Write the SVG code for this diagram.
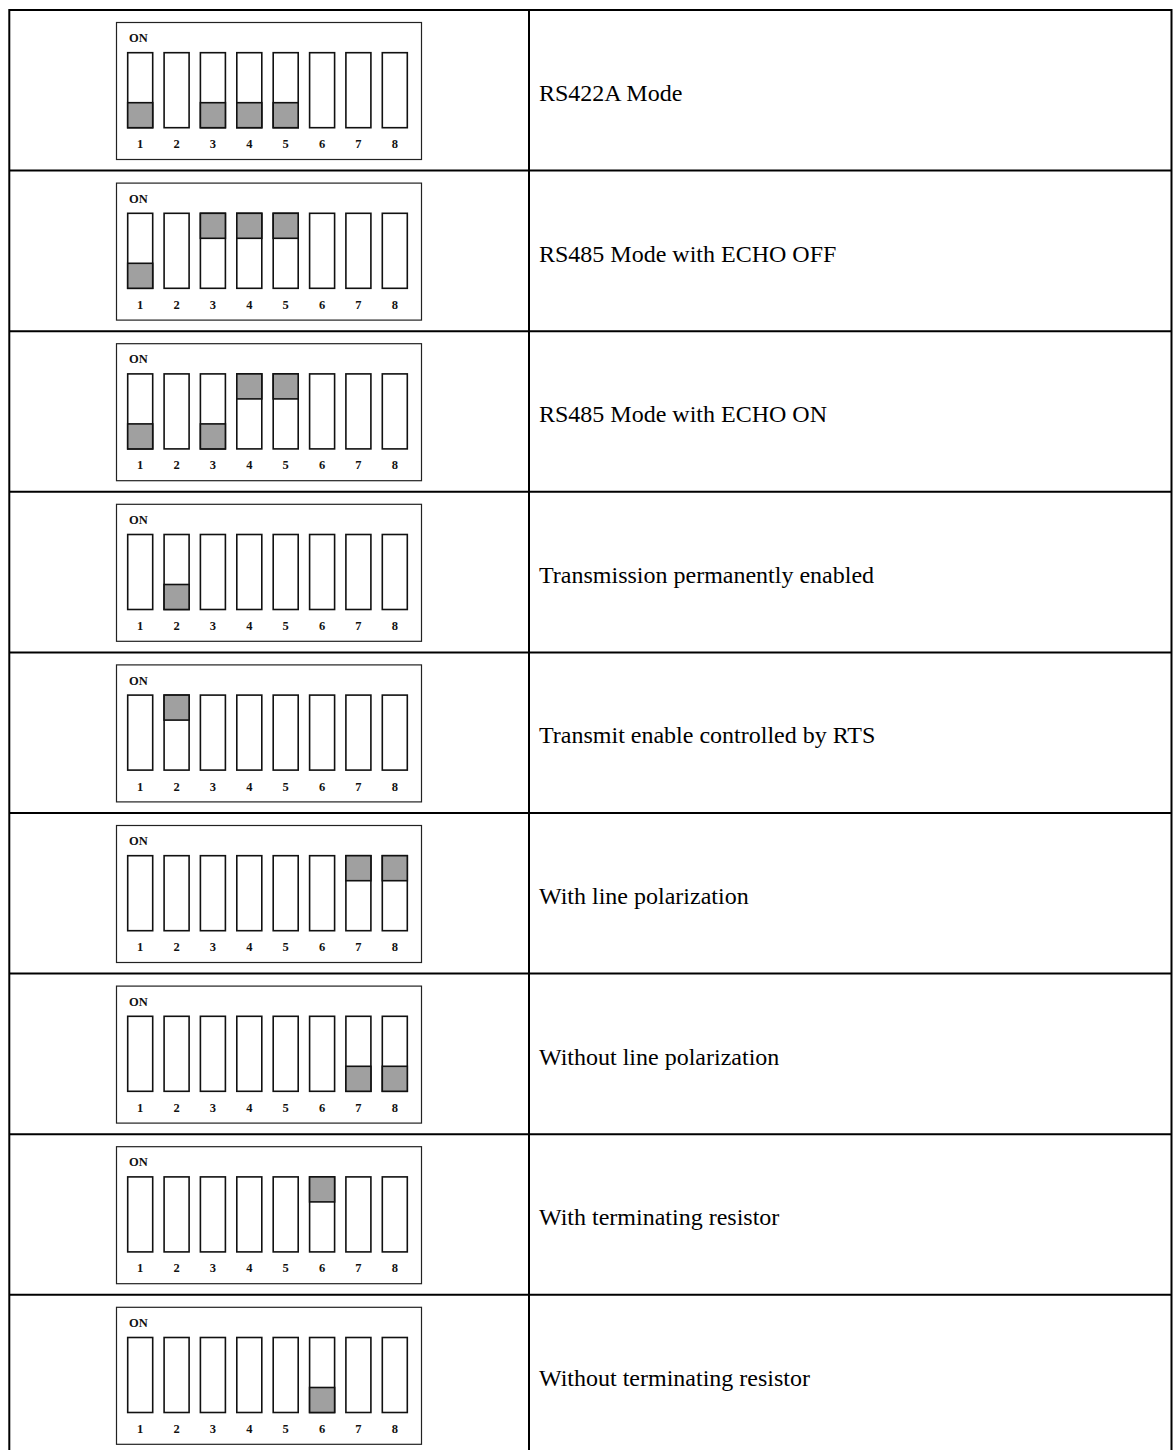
<svg xmlns="http://www.w3.org/2000/svg" width="1173" height="1450" viewBox="0 0 1173 1450">
<style>
.grid{stroke:#000;stroke-width:2;fill:none}
.box{fill:#fff;stroke:#222;stroke-width:1.2}
.sw{fill:#fff;stroke:#111;stroke-width:1.6}
.on{fill:#a0a0a0;stroke:#111;stroke-width:1.6}
.lbl{font-family:"Liberation Serif","Times New Roman",serif;font-weight:bold;font-size:12.5px;fill:#111}
.num{font-family:"Liberation Serif","Times New Roman",serif;font-weight:bold;font-size:12.5px;fill:#111;text-anchor:middle}
.desc{font-family:"Liberation Serif","Times New Roman",serif;font-size:24px;fill:#000}
</style>
<rect width="1173" height="1450" fill="#fff"/>
<g id="row1">
<rect class="box" x="116.5" y="22.5" width="305" height="137"/>
<text class="lbl" x="129" y="42.3">ON</text>
<rect class="sw" x="127.7" y="52.7" width="25" height="75"/><rect class="sw" x="164.1" y="52.7" width="25" height="75"/><rect class="sw" x="200.4" y="52.7" width="25" height="75"/><rect class="sw" x="236.8" y="52.7" width="25" height="75"/><rect class="sw" x="273.2" y="52.7" width="25" height="75"/><rect class="sw" x="309.6" y="52.7" width="25" height="75"/><rect class="sw" x="345.9" y="52.7" width="25" height="75"/><rect class="sw" x="382.3" y="52.7" width="25" height="75"/>
<rect class="on" x="127.7" y="102.7" width="25" height="25"/><rect class="on" x="200.4" y="102.7" width="25" height="25"/><rect class="on" x="236.8" y="102.7" width="25" height="25"/><rect class="on" x="273.2" y="102.7" width="25" height="25"/>
<text class="num" x="140.2" y="148.3">1</text><text class="num" x="176.6" y="148.3">2</text><text class="num" x="212.9" y="148.3">3</text><text class="num" x="249.3" y="148.3">4</text><text class="num" x="285.7" y="148.3">5</text><text class="num" x="322.1" y="148.3">6</text><text class="num" x="358.4" y="148.3">7</text><text class="num" x="394.8" y="148.3">8</text>
<text class="desc" x="539" y="101">RS422A Mode</text>
</g>
<g id="row2" transform="translate(0,160.6)">
<rect class="box" x="116.5" y="22.5" width="305" height="137"/>
<text class="lbl" x="129" y="42.3">ON</text>
<rect class="sw" x="127.7" y="52.7" width="25" height="75"/><rect class="sw" x="164.1" y="52.7" width="25" height="75"/><rect class="sw" x="200.4" y="52.7" width="25" height="75"/><rect class="sw" x="236.8" y="52.7" width="25" height="75"/><rect class="sw" x="273.2" y="52.7" width="25" height="75"/><rect class="sw" x="309.6" y="52.7" width="25" height="75"/><rect class="sw" x="345.9" y="52.7" width="25" height="75"/><rect class="sw" x="382.3" y="52.7" width="25" height="75"/>
<rect class="on" x="127.7" y="102.7" width="25" height="25"/><rect class="on" x="200.4" y="52.7" width="25" height="25"/><rect class="on" x="236.8" y="52.7" width="25" height="25"/><rect class="on" x="273.2" y="52.7" width="25" height="25"/>
<text class="num" x="140.2" y="148.3">1</text><text class="num" x="176.6" y="148.3">2</text><text class="num" x="212.9" y="148.3">3</text><text class="num" x="249.3" y="148.3">4</text><text class="num" x="285.7" y="148.3">5</text><text class="num" x="322.1" y="148.3">6</text><text class="num" x="358.4" y="148.3">7</text><text class="num" x="394.8" y="148.3">8</text>
<text class="desc" x="539" y="101">RS485 Mode with ECHO OFF</text>
</g>
<g id="row3" transform="translate(0,321.2)">
<rect class="box" x="116.5" y="22.5" width="305" height="137"/>
<text class="lbl" x="129" y="42.3">ON</text>
<rect class="sw" x="127.7" y="52.7" width="25" height="75"/><rect class="sw" x="164.1" y="52.7" width="25" height="75"/><rect class="sw" x="200.4" y="52.7" width="25" height="75"/><rect class="sw" x="236.8" y="52.7" width="25" height="75"/><rect class="sw" x="273.2" y="52.7" width="25" height="75"/><rect class="sw" x="309.6" y="52.7" width="25" height="75"/><rect class="sw" x="345.9" y="52.7" width="25" height="75"/><rect class="sw" x="382.3" y="52.7" width="25" height="75"/>
<rect class="on" x="127.7" y="102.7" width="25" height="25"/><rect class="on" x="200.4" y="102.7" width="25" height="25"/><rect class="on" x="236.8" y="52.7" width="25" height="25"/><rect class="on" x="273.2" y="52.7" width="25" height="25"/>
<text class="num" x="140.2" y="148.3">1</text><text class="num" x="176.6" y="148.3">2</text><text class="num" x="212.9" y="148.3">3</text><text class="num" x="249.3" y="148.3">4</text><text class="num" x="285.7" y="148.3">5</text><text class="num" x="322.1" y="148.3">6</text><text class="num" x="358.4" y="148.3">7</text><text class="num" x="394.8" y="148.3">8</text>
<text class="desc" x="539" y="101">RS485 Mode with ECHO ON</text>
</g>
<g id="row4" transform="translate(0,481.8)">
<rect class="box" x="116.5" y="22.5" width="305" height="137"/>
<text class="lbl" x="129" y="42.3">ON</text>
<rect class="sw" x="127.7" y="52.7" width="25" height="75"/><rect class="sw" x="164.1" y="52.7" width="25" height="75"/><rect class="sw" x="200.4" y="52.7" width="25" height="75"/><rect class="sw" x="236.8" y="52.7" width="25" height="75"/><rect class="sw" x="273.2" y="52.7" width="25" height="75"/><rect class="sw" x="309.6" y="52.7" width="25" height="75"/><rect class="sw" x="345.9" y="52.7" width="25" height="75"/><rect class="sw" x="382.3" y="52.7" width="25" height="75"/>
<rect class="on" x="164.1" y="102.7" width="25" height="25"/>
<text class="num" x="140.2" y="148.3">1</text><text class="num" x="176.6" y="148.3">2</text><text class="num" x="212.9" y="148.3">3</text><text class="num" x="249.3" y="148.3">4</text><text class="num" x="285.7" y="148.3">5</text><text class="num" x="322.1" y="148.3">6</text><text class="num" x="358.4" y="148.3">7</text><text class="num" x="394.8" y="148.3">8</text>
<text class="desc" x="539" y="101">Transmission permanently enabled</text>
</g>
<g id="row5" transform="translate(0,642.4)">
<rect class="box" x="116.5" y="22.5" width="305" height="137"/>
<text class="lbl" x="129" y="42.3">ON</text>
<rect class="sw" x="127.7" y="52.7" width="25" height="75"/><rect class="sw" x="164.1" y="52.7" width="25" height="75"/><rect class="sw" x="200.4" y="52.7" width="25" height="75"/><rect class="sw" x="236.8" y="52.7" width="25" height="75"/><rect class="sw" x="273.2" y="52.7" width="25" height="75"/><rect class="sw" x="309.6" y="52.7" width="25" height="75"/><rect class="sw" x="345.9" y="52.7" width="25" height="75"/><rect class="sw" x="382.3" y="52.7" width="25" height="75"/>
<rect class="on" x="164.1" y="52.7" width="25" height="25"/>
<text class="num" x="140.2" y="148.3">1</text><text class="num" x="176.6" y="148.3">2</text><text class="num" x="212.9" y="148.3">3</text><text class="num" x="249.3" y="148.3">4</text><text class="num" x="285.7" y="148.3">5</text><text class="num" x="322.1" y="148.3">6</text><text class="num" x="358.4" y="148.3">7</text><text class="num" x="394.8" y="148.3">8</text>
<text class="desc" x="539" y="101">Transmit enable controlled by RTS</text>
</g>
<g id="row6" transform="translate(0,803)">
<rect class="box" x="116.5" y="22.5" width="305" height="137"/>
<text class="lbl" x="129" y="42.3">ON</text>
<rect class="sw" x="127.7" y="52.7" width="25" height="75"/><rect class="sw" x="164.1" y="52.7" width="25" height="75"/><rect class="sw" x="200.4" y="52.7" width="25" height="75"/><rect class="sw" x="236.8" y="52.7" width="25" height="75"/><rect class="sw" x="273.2" y="52.7" width="25" height="75"/><rect class="sw" x="309.6" y="52.7" width="25" height="75"/><rect class="sw" x="345.9" y="52.7" width="25" height="75"/><rect class="sw" x="382.3" y="52.7" width="25" height="75"/>
<rect class="on" x="345.9" y="52.7" width="25" height="25"/><rect class="on" x="382.3" y="52.7" width="25" height="25"/>
<text class="num" x="140.2" y="148.3">1</text><text class="num" x="176.6" y="148.3">2</text><text class="num" x="212.9" y="148.3">3</text><text class="num" x="249.3" y="148.3">4</text><text class="num" x="285.7" y="148.3">5</text><text class="num" x="322.1" y="148.3">6</text><text class="num" x="358.4" y="148.3">7</text><text class="num" x="394.8" y="148.3">8</text>
<text class="desc" x="539" y="101">With line polarization</text>
</g>
<g id="row7" transform="translate(0,963.6)">
<rect class="box" x="116.5" y="22.5" width="305" height="137"/>
<text class="lbl" x="129" y="42.3">ON</text>
<rect class="sw" x="127.7" y="52.7" width="25" height="75"/><rect class="sw" x="164.1" y="52.7" width="25" height="75"/><rect class="sw" x="200.4" y="52.7" width="25" height="75"/><rect class="sw" x="236.8" y="52.7" width="25" height="75"/><rect class="sw" x="273.2" y="52.7" width="25" height="75"/><rect class="sw" x="309.6" y="52.7" width="25" height="75"/><rect class="sw" x="345.9" y="52.7" width="25" height="75"/><rect class="sw" x="382.3" y="52.7" width="25" height="75"/>
<rect class="on" x="345.9" y="102.7" width="25" height="25"/><rect class="on" x="382.3" y="102.7" width="25" height="25"/>
<text class="num" x="140.2" y="148.3">1</text><text class="num" x="176.6" y="148.3">2</text><text class="num" x="212.9" y="148.3">3</text><text class="num" x="249.3" y="148.3">4</text><text class="num" x="285.7" y="148.3">5</text><text class="num" x="322.1" y="148.3">6</text><text class="num" x="358.4" y="148.3">7</text><text class="num" x="394.8" y="148.3">8</text>
<text class="desc" x="539" y="101">Without line polarization</text>
</g>
<g id="row8" transform="translate(0,1124.2)">
<rect class="box" x="116.5" y="22.5" width="305" height="137"/>
<text class="lbl" x="129" y="42.3">ON</text>
<rect class="sw" x="127.7" y="52.7" width="25" height="75"/><rect class="sw" x="164.1" y="52.7" width="25" height="75"/><rect class="sw" x="200.4" y="52.7" width="25" height="75"/><rect class="sw" x="236.8" y="52.7" width="25" height="75"/><rect class="sw" x="273.2" y="52.7" width="25" height="75"/><rect class="sw" x="309.6" y="52.7" width="25" height="75"/><rect class="sw" x="345.9" y="52.7" width="25" height="75"/><rect class="sw" x="382.3" y="52.7" width="25" height="75"/>
<rect class="on" x="309.6" y="52.7" width="25" height="25"/>
<text class="num" x="140.2" y="148.3">1</text><text class="num" x="176.6" y="148.3">2</text><text class="num" x="212.9" y="148.3">3</text><text class="num" x="249.3" y="148.3">4</text><text class="num" x="285.7" y="148.3">5</text><text class="num" x="322.1" y="148.3">6</text><text class="num" x="358.4" y="148.3">7</text><text class="num" x="394.8" y="148.3">8</text>
<text class="desc" x="539" y="101">With terminating resistor</text>
</g>
<g id="row9" transform="translate(0,1284.8)">
<rect class="box" x="116.5" y="22.5" width="305" height="137"/>
<text class="lbl" x="129" y="42.3">ON</text>
<rect class="sw" x="127.7" y="52.7" width="25" height="75"/><rect class="sw" x="164.1" y="52.7" width="25" height="75"/><rect class="sw" x="200.4" y="52.7" width="25" height="75"/><rect class="sw" x="236.8" y="52.7" width="25" height="75"/><rect class="sw" x="273.2" y="52.7" width="25" height="75"/><rect class="sw" x="309.6" y="52.7" width="25" height="75"/><rect class="sw" x="345.9" y="52.7" width="25" height="75"/><rect class="sw" x="382.3" y="52.7" width="25" height="75"/>
<rect class="on" x="309.6" y="102.7" width="25" height="25"/>
<text class="num" x="140.2" y="148.3">1</text><text class="num" x="176.6" y="148.3">2</text><text class="num" x="212.9" y="148.3">3</text><text class="num" x="249.3" y="148.3">4</text><text class="num" x="285.7" y="148.3">5</text><text class="num" x="322.1" y="148.3">6</text><text class="num" x="358.4" y="148.3">7</text><text class="num" x="394.8" y="148.3">8</text>
<text class="desc" x="539" y="101">Without terminating resistor</text>
</g>
<g id="table-lines" class="grid">
<path d="M9.3 1450 V10 H1171.5 V1450"/>
<path d="M529 10 V1450"/>
<path d="M9.3 170.6 H1171.5 M9.3 331.2 H1171.5 M9.3 491.8 H1171.5 M9.3 652.4 H1171.5 M9.3 813 H1171.5 M9.3 973.6 H1171.5 M9.3 1134.2 H1171.5 M9.3 1294.8 H1171.5"/>
</g>
</svg>
